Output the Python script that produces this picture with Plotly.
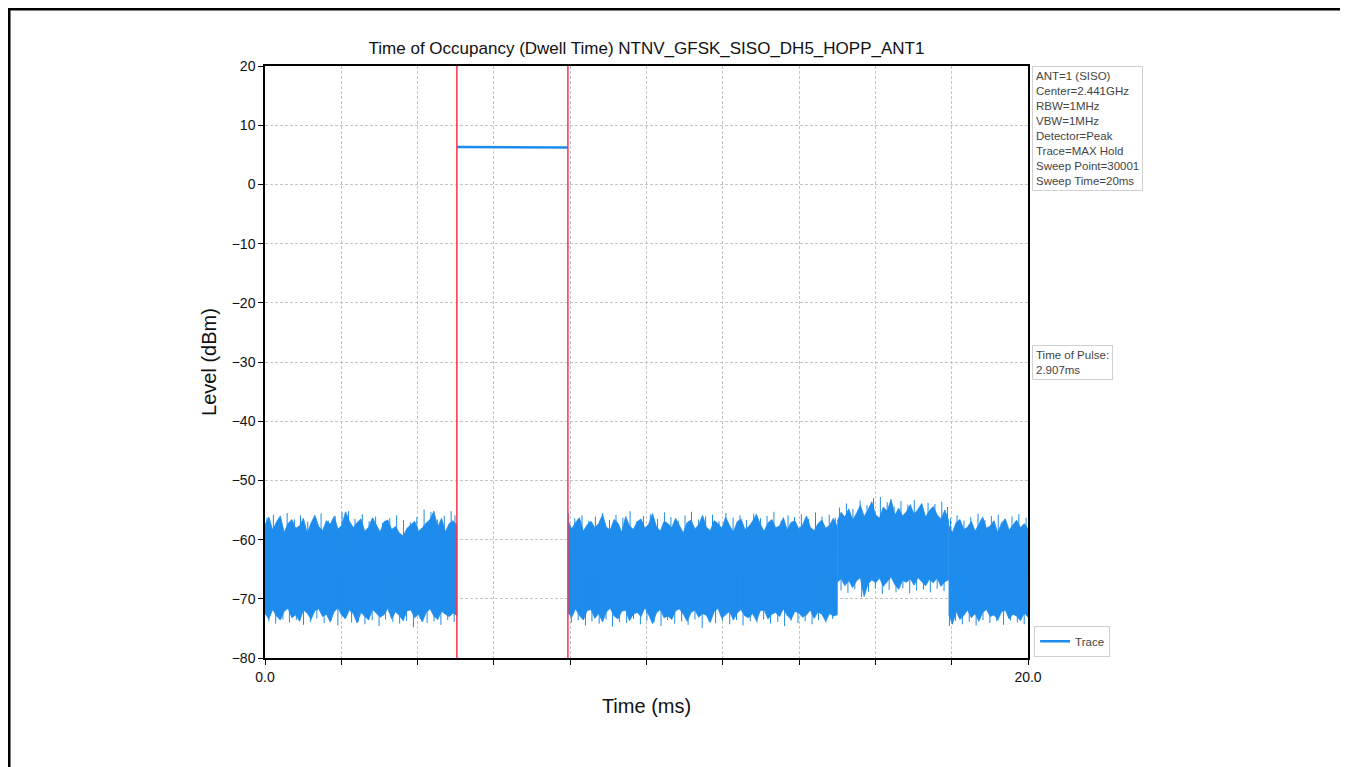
"""
Time of Occupancy (Dwell Time) plot - Plotly recreation
"""

import numpy as np
import plotly.graph_objects as go

# ---- data ----
x_ticks = [0, 2, 4, 6, 8, 10, 12, 14, 16, 18, 20]
x_tick_text = ['0.0', '', '', '', '', '', '', '', '', '', '20.0']
y_ticks = [20, 10, 0, -10, -20, -30, -40, -50, -60, -70, -80]

marker_times = [5.03, 7.94]          # red dwell markers (ms)
pulse_times = [5.03, 6.0, 7.0, 7.94]
pulse_levels = [6.32, 6.3, 6.28, 6.25]

# noise floor segments: (start ms, end ms), upper envelope, lower envelope (dBm)
seg_a_span = (0.0, 5.03)
seg_a_upper = [-57.5, -56.2, -58.4, -57.0, -56.0, -58.8, -57.3, -56.6, -58.1, -57.7,
               -56.4, -58.9, -57.2, -55.9, -57.8, -58.5, -56.8, -57.4, -56.1, -58.2,
               -57.6, -55.3, -56.9, -58.0, -57.1, -56.5, -58.6, -57.9, -56.3, -57.5,
               -58.7, -57.0, -56.7, -58.3, -57.8, -58.9, -59.4, -58.1, -57.5, -56.9,
               -58.6, -58.0, -57.2, -56.6, -55.2, -57.9, -56.4, -58.7, -57.3, -56.8,
               -57.6]
seg_a_lower = [-72.5, -73.4, -71.8, -72.9, -73.6, -72.1, -71.6, -73.2, -72.7, -73.8,
               -71.9, -72.4, -73.5, -72.0, -71.7, -73.0, -72.6, -73.9, -72.2, -71.5,
               -72.8, -73.3, -71.9, -72.5, -74.1, -72.3, -72.9, -73.6, -71.8, -72.4,
               -73.1, -72.7, -71.6, -73.4, -72.2, -72.8, -73.7, -72.0, -71.9, -73.2,
               -72.6, -73.9, -72.3, -71.7, -72.9, -73.5, -72.1, -72.6, -73.0, -72.4,
               -72.8]

seg_b_span = (7.94, 15.0)
seg_b_upper = [-56.8, -58.2, -57.1, -56.3, -58.6, -57.5, -56.9, -58.0, -57.3, -55.8,
               -57.9, -58.4, -56.6, -57.2, -58.8, -56.1, -57.7, -58.3, -57.0, -56.5,
               -58.1, -57.4, -55.6, -57.8, -58.6, -56.9, -57.3, -58.0, -56.4, -57.6,
               -58.9, -57.1, -56.7, -58.2, -57.5, -55.9, -57.9, -58.5, -56.8, -57.3,
               -58.1, -56.2, -57.6, -58.7, -57.0, -56.5, -58.3, -57.8, -56.9, -55.7,
               -57.4, -58.6, -57.2, -56.6, -58.0, -57.7, -56.3, -58.4, -57.1, -56.8,
               -58.2, -57.5, -56.0, -57.9, -58.5, -57.3, -56.7, -58.1, -57.6, -56.4,
               -57.8]
seg_b_lower = [-72.4, -73.1, -71.7, -72.8, -73.6, -72.0, -71.8, -73.3, -72.5, -73.9,
               -72.2, -71.6, -72.9, -73.4, -72.1, -71.9, -73.7, -72.6, -72.3, -73.0,
               -71.5, -72.7, -74.2, -72.4, -71.8, -73.2, -72.9, -73.5, -72.0, -71.7,
               -72.6, -73.8, -72.3, -71.9, -73.1, -72.5, -72.8, -74.0, -72.2, -71.6,
               -73.3, -72.7, -72.1, -73.6, -72.4, -71.8, -72.9, -73.2, -72.5, -73.7,
               -72.0, -71.9, -73.4, -72.6, -72.3, -73.0, -71.7, -72.8, -73.5, -72.1,
               -72.4, -73.1, -72.7, -71.9, -73.3, -72.2, -72.6, -73.8, -72.5, -72.9,
               -72.7]

seg_c_span = (15.0, 17.92)
seg_c_upper = [-56.9, -55.4, -56.2, -54.8, -56.7, -55.6, -54.2, -56.1, -55.0, -53.6,
               -55.8, -56.4, -54.5, -55.2, -53.2, -55.9, -54.7, -56.0, -55.3, -54.1,
               -55.7, -54.9, -53.9, -56.2, -55.1, -54.4, -55.8, -56.5, -55.0, -56.8]
seg_c_lower = [-67.2, -66.6, -67.8, -66.9, -68.1, -67.0, -66.4, -69.6, -67.5, -66.8,
               -67.3, -66.5, -67.9, -67.1, -66.3, -67.6, -68.4, -66.9, -67.2, -66.6,
               -67.7, -66.4, -67.0, -67.8, -66.7, -67.3, -66.5, -67.9, -67.1, -66.8]

seg_d_span = (17.92, 20.0)
seg_d_upper = [-57.6, -58.8, -57.1, -56.6, -58.3, -57.9, -56.9, -58.6, -57.4, -56.2,
               -58.1, -57.7, -56.8, -58.9, -57.2, -56.5, -58.4, -57.5, -56.7, -58.0,
               -57.3, -58.2]
seg_d_lower = [-72.6, -74.3, -72.1, -73.5, -72.8, -71.9, -73.2, -72.5, -73.8, -72.3,
               -71.8, -73.0, -72.7, -73.6, -72.2, -71.9, -73.4, -72.6, -72.9, -73.7,
               -72.4, -73.1]

# isolated peaks sticking out above the noise band (ms, dBm)
spike_up_times = [0.05, 0.22, 0.41, 0.58, 0.77, 0.93, 1.12, 1.30, 1.47, 1.66,
                  1.84, 2.02, 2.19, 2.36, 2.55, 2.73, 2.90, 3.08, 3.27, 3.45,
                  3.63, 3.81, 3.98, 4.17, 4.35, 4.52, 4.70, 4.88, 4.98,
                  7.96, 8.12, 8.31, 8.49, 8.66, 8.85, 9.03, 9.20, 9.38, 9.57,
                  9.75, 9.92, 10.10, 10.29, 10.47, 10.64, 10.83, 11.01, 11.18, 11.36,
                  11.55, 11.73, 11.90, 12.08, 12.27, 12.45, 12.62, 12.81, 12.99, 13.16,
                  13.34, 13.53, 13.71, 13.88, 14.06, 14.25, 14.43, 14.60, 14.79, 14.95,
                  15.06, 15.24, 15.41, 15.60, 15.78, 15.95, 16.13, 16.31, 16.49, 16.67,
                  16.85, 17.02, 17.20, 17.38, 17.56, 17.74, 17.89,
                  17.97, 18.14, 18.32, 18.50, 18.69, 18.87, 19.04, 19.22, 19.40, 19.58,
                  19.76, 19.95]
spike_up_levels = [-56.3, -55.8, -56.9, -55.5, -56.6, -55.9, -57.0, -56.2, -55.6, -56.8,
                   -56.0, -55.4, -55.2, -56.5, -55.7, -56.9, -56.1, -57.2, -56.4, -55.9,
                   -56.7, -57.1, -56.2, -54.9, -55.3, -56.6, -56.0, -55.2, -55.9,
                   -55.6, -56.4, -55.9, -56.8, -56.1, -55.5, -56.7, -55.8, -56.3, -55.2,
                   -56.9, -56.0, -55.7, -56.5, -55.4, -56.2, -56.8, -55.9, -55.3, -56.6,
                   -56.1, -55.8, -56.9, -55.5, -56.3, -55.9, -56.7, -55.6, -56.4, -56.0,
                   -55.3, -56.8, -55.9, -56.2, -55.7, -56.5, -55.4, -56.1, -55.8, -56.3,
                   -54.6, -53.9, -54.8, -53.4, -54.2, -53.0, -52.8, -53.7, -54.4, -53.5,
                   -54.1, -53.3, -54.7, -53.8, -54.0, -53.6, -54.5,
                   -56.4, -55.9, -56.8, -56.2, -55.6, -56.7, -56.0, -55.8, -56.5, -56.1,
                   -55.7, -56.3]

# isolated dips below the noise band (ms, dBm)
spike_dn_times = [0.10, 0.28, 0.47, 0.64, 0.82, 1.01, 1.19, 1.36, 1.55, 1.73,
                  1.91, 2.08, 2.27, 2.45, 2.62, 2.81, 2.99, 3.16, 3.35, 3.53,
                  3.71, 3.89, 4.07, 4.25, 4.43, 4.61, 4.79, 4.96,
                  8.03, 8.21, 8.40, 8.57, 8.76, 8.94, 9.11, 9.29, 9.48, 9.66,
                  9.84, 10.01, 10.20, 10.38, 10.55, 10.74, 10.92, 11.09, 11.27, 11.46,
                  11.64, 11.81, 11.99, 12.18, 12.36, 12.53, 12.72, 12.90, 13.07, 13.25,
                  13.44, 13.62, 13.79, 13.97, 14.16, 14.34, 14.51, 14.70, 14.88,
                  15.10, 15.28, 15.46, 15.64, 15.82, 16.00, 16.18, 16.36, 16.54, 16.72,
                  16.90, 17.08, 17.26, 17.44, 17.62, 17.80,
                  17.94, 18.10, 18.28, 18.46, 18.64, 18.82, 19.00, 19.18, 19.36, 19.54,
                  19.72, 19.90]
spike_dn_levels = [-73.8, -74.2, -73.5, -74.0, -73.6, -74.4, -73.9, -73.3, -74.1, -73.7,
                   -74.5, -73.4, -74.0, -73.8, -74.3, -73.6, -74.6, -73.5, -73.9, -74.2,
                   -73.7, -74.8, -73.4, -74.1, -73.8, -74.4, -73.6, -73.9,
                   -74.0, -73.6, -74.5, -73.8, -74.2, -73.5, -74.7, -73.9, -74.1, -73.4,
                   -74.3, -73.7, -74.0, -74.6, -73.6, -74.2, -73.8, -74.4, -73.5, -74.9,
                   -73.9, -74.1, -73.7, -74.3, -73.6, -74.5, -73.8, -74.0, -73.5, -74.2,
                   -73.9, -74.6, -73.7, -74.1, -73.8, -74.3, -73.6, -74.0, -73.4,
                   -68.6, -69.0, -68.4, -69.7, -68.8, -68.3, -69.2, -68.5, -68.9, -68.2,
                   -69.1, -68.6, -68.4, -68.9, -68.3, -68.7,
                   -74.6, -73.7, -74.3, -73.9, -74.5, -73.6, -74.1, -73.8, -74.4, -73.7,
                   -74.0, -74.3]

info_text = ('ANT=1 (SISO)<br>Center=2.441GHz<br>RBW=1MHz<br>VBW=1MHz<br>'
             'Detector=Peak<br>Trace=MAX Hold<br>Sweep Point=30001<br>Sweep Time=20ms')
pulse_text = 'Time of Pulse:<br>2.907ms'

BLUE = '#1e8cec'
RED = '#ff3048'
GRID = '#c4c4c4'


def envelope_polygon(span, upper, lower):
    """Closed outline of a noise band: upper edge forward, lower edge back."""
    t_up = np.linspace(span[0], span[1], len(upper))
    t_lo = np.linspace(span[0], span[1], len(lower))
    xs = list(t_up) + list(t_lo[::-1])
    ys = list(upper) + list(lower[::-1])
    return xs, ys


def needles(times, levels, base):
    """Vertical strokes from inside the band out to each peak/dip."""
    xs, ys = [], []
    for t, v in zip(times, levels):
        xs += [t, t, None]
        ys += [base, v, None]
    return xs, ys


fig = go.Figure()

segments = [
    (seg_a_span, seg_a_upper, seg_a_lower),
    (seg_b_span, seg_b_upper, seg_b_lower),
    (seg_c_span, seg_c_upper, seg_c_lower),
    (seg_d_span, seg_d_upper, seg_d_lower),
]
for span, up, lo in segments:
    xs, ys = envelope_polygon(span, up, lo)
    fig.add_trace(go.Scatter(
        x=xs, y=ys, mode='lines', fill='toself',
        fillcolor=BLUE, line=dict(color=BLUE, width=0.8),
        legendgroup='trace', showlegend=False, hoverinfo='skip'
    ))

for times, levels, base in [(spike_up_times, spike_up_levels, -62),
                            (spike_dn_times, spike_dn_levels, -66)]:
    xs, ys = needles(times, levels, base)
    fig.add_trace(go.Scatter(
        x=xs, y=ys, mode='lines', line=dict(color=BLUE, width=1),
        legendgroup='trace', showlegend=False, hoverinfo='skip'
    ))

# pulse at the top
fig.add_trace(go.Scatter(
    x=pulse_times, y=pulse_levels, mode='lines', name='Trace',
    line=dict(color=BLUE, width=2.5), legendgroup='trace'
))

# dwell markers
for t in marker_times:
    fig.add_vline(x=t, line=dict(color=RED, width=1.5))

# page border (bottom edge runs off the page)
fig.add_shape(type='rect', xref='paper', yref='paper',
              x0=-0.3355, x1=1.4128, y0=-0.21, y1=1.0963,
              line=dict(color='black', width=3), fillcolor='rgba(0,0,0,0)')

fig.add_annotation(
    text=info_text, xref='paper', yref='paper', x=1.0053, y=1.0,
    xanchor='left', yanchor='top', align='left', showarrow=False,
    font=dict(size=11.5, color='#444'), bordercolor='#d0d0d0', borderwidth=1,
    borderpad=3, bgcolor='white'
)
fig.add_annotation(
    text=pulse_text, xref='paper', yref='paper', x=1.0053, y=0.5287,
    xanchor='left', yanchor='top', align='left', showarrow=False,
    font=dict(size=11.5, color='#444'), bordercolor='#d0d0d0', borderwidth=1,
    borderpad=3, bgcolor='white'
)

fig.update_layout(
    width=1340, height=759,
    margin=dict(l=257, r=320, t=58, b=109),
    paper_bgcolor='white', plot_bgcolor='white',
    font=dict(family='Liberation Sans, Arial, sans-serif', color='#111'),
    title=dict(
        text='Time of Occupancy (Dwell Time) NTNV_GFSK_SISO_DH5_HOPP_ANT1',
        xref='paper', x=0.5, xanchor='center', y=0.947, yanchor='middle',
        font=dict(size=17, color='#111')
    ),
    showlegend=True,
    legend=dict(
        x=1.008, y=0.002, xanchor='left', yanchor='bottom',
        bordercolor='#d0d0d0', borderwidth=1, bgcolor='white',
        font=dict(size=11.5, color='#444')
    ),
)

fig.update_xaxes(
    range=[0, 20], tickvals=x_ticks, ticktext=x_tick_text,
    ticks='outside', ticklen=5, tickcolor='black', tickfont=dict(size=14),
    showline=True, linecolor='black', linewidth=1.5, mirror=True,
    showgrid=True, gridcolor=GRID, griddash='3px,2px', gridwidth=1,
    zeroline=False,
    title=dict(text='Time (ms)', font=dict(size=20), standoff=15)
)
fig.update_yaxes(
    range=[-80, 20], tickvals=y_ticks,
    ticks='outside', ticklen=5, tickcolor='black', tickfont=dict(size=14),
    showline=True, linecolor='black', linewidth=1.5, mirror=True,
    showgrid=True, gridcolor=GRID, griddash='3px,2px', gridwidth=1,
    zeroline=False,
    title=dict(text='Level (dBm)', font=dict(size=20), standoff=10)
)

fig.write_html("out.html")
